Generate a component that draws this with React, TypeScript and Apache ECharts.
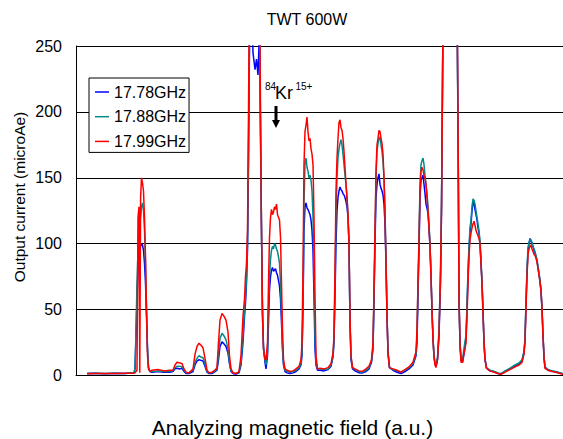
import React, { useEffect, useRef } from "react";
import * as echarts from "echarts";

const FONT = "'Liberation Sans', Arial, sans-serif";

const seriesNames = ["17.78GHz", "17.88GHz", "17.99GHz"];
const seriesColors = ["#0000ff", "#008b8b", "#ff0000"];
const yTicks = { min: 0, max: 250, step: 50 };

// Analyzing magnetic field (a.u.)
const field = [
  11, 19, 29, 39, 49, 58,
  59, 60, 61, 62, 63, 63.8, 64.6, 65.5, 66.5, 67.5, 68.5, 69.5, 70.5, 71.5, 72.5, 74,
  76, 82, 88, 94,
  97, 99, 101, 104, 106, 108, 110, 113,
  117, 119, 121, 123, 125, 127, 129, 131, 133, 136, 139,
  141, 142.5, 144, 146, 148, 150, 152, 153.5, 155, 157, 160, 163,
  165, 167, 168.5, 169.5, 170.5, 171.5, 172.5, 173.5, 175, 177, 179, 180.5, 182, 183.5, 184.5, 185.5, 186.5, 187.5, 189, 190, 191.5,
  192.5, 193.5, 194.5, 195.5, 196.5, 197.5, 198.5, 199.5, 200.5, 201.5, 202.5, 203.5, 204.5, 205.5, 206.5, 207.5, 209,
  211, 214, 217, 220, 223, 225,
  226, 227, 228, 229, 230, 231, 232, 233, 234, 235, 236, 237, 238, 239, 240, 241.5,
  244, 248, 252, 255, 257,
  258, 259, 260, 261, 262, 263, 264, 265, 266, 267, 268, 269, 270, 271, 272, 273, 274, 275, 276.5,
  279, 283, 286, 290, 293, 295.5,
  297, 298, 299, 300, 301, 302, 303, 304, 305, 306, 307, 308, 309, 310, 311, 312, 313.5,
  317, 321, 325, 329, 333, 337, 340,
  341, 342, 343, 344, 345, 346, 347, 348, 349, 350, 351, 352, 353, 354, 355, 356, 357, 358, 359, 360,
  361.5, 363, 364.5, 365.5, 366.5, 367.5, 371, 376, 380, 381.3, 382.3, 383, 384, 385, 386.5, 387.5, 389,
  390, 391, 392, 393, 394, 395, 396, 397, 398, 399, 400, 401, 402, 403, 404, 405, 406, 407, 408, 409, 410.5,
  414, 418, 422, 425, 429, 434, 439, 443, 446, 448,
  449, 450, 451, 452, 453, 454, 455, 456, 457, 458, 459, 460, 461, 462, 463, 464, 465, 466, 467, 468, 469,
  472, 476, 480, 484, 487,
];

// 17.78GHz
const blue = [
  1.5, 1.8, 1.4, 1.7, 1.5, 2,
  5, 30, 60, 80, 92, 96, 98, 100, 99, 95, 85, 70, 45, 20, 6, 3,
  2.5, 3, 2.5, 2.5,
  3, 5, 5.5, 5, 5.5, 3, 1.5, 1.5,
  3, 8, 11, 12, 11.5, 11, 7, 2.5, 1.5, 1.5, 3,
  4, 12, 22, 25.5, 24, 22, 17, 9, 3, 1.5, 1, 2,
  8, 25, 45, 55, 70, 95, 160, 250, 300, 245, 232, 240, 228, 262, 180, 110, 50, 22, 10, 5, 15,
  40, 65, 75, 80, 82, 79, 80, 81, 78, 76, 72, 68, 58, 40, 20, 8, 3,
  2, 1.5, 2, 3, 5, 8,
  15, 50, 110, 128, 131, 127, 126, 124, 122, 118, 110, 95, 60, 20, 8, 4,
  4, 3.5, 4.5, 7, 14,
  25, 60, 100, 125, 135, 140, 143, 141, 140, 138, 137, 135, 132, 128, 120, 100, 40, 12, 5,
  3.5, 2, 1.8, 3, 5, 10,
  20, 55, 100, 135, 145, 150, 153, 145, 142, 140, 137, 130, 115, 85, 45, 18, 6,
  4, 2.5, 1.5, 3, 5, 8, 15,
  25, 60, 95, 135, 148, 150, 152, 145, 138, 130, 127, 123, 112, 98, 75, 50, 28, 15, 9, 7,
  12, 30, 70, 125, 220, 320, 400, 420, 340, 260, 160, 60, 25, 12, 10, 14, 22,
  28, 50, 75, 95, 108, 115, 125, 132, 130, 126, 122, 118, 112, 108, 100, 85, 70, 48, 25, 12, 5.5,
  3.5, 3, 1.5, 1, 3, 5, 7, 8.5, 11, 18,
  27, 55, 78, 95, 100, 104, 102, 100, 98, 95, 93, 90, 87, 82, 77, 72, 64, 50, 30, 14, 6,
  4, 3.5, 2.5, 2, 1,
];

// 17.88GHz
const teal = [
  1.6, 1.7, 1.5, 1.8, 1.6, 2.2,
  5, 35, 70, 95, 115, 118, 120, 128, 131, 125, 110, 85, 50, 20, 6, 3,
  3, 3.5, 3, 3,
  3.5, 6, 7, 7, 6.5, 4, 2, 2,
  4, 10, 13, 15, 14, 13.5, 9, 3, 2, 2, 3.5,
  5, 16, 28, 32, 30, 27, 20, 10, 3.5, 2, 1.5, 2.5,
  10, 30, 50, 60, 75, 100, 170, 260, 320, 320, 320, 320, 300, 280, 190, 110, 45, 20, 12, 8, 18,
  50, 75, 88, 95, 98, 96, 100, 99, 96, 94, 90, 85, 70, 48, 22, 9, 4,
  3, 2.5, 3, 4, 6, 9,
  18, 55, 130, 160, 165, 158, 155, 150, 152, 148, 140, 120, 80, 30, 10, 5,
  5, 4.5, 5, 8, 15,
  28, 70, 120, 150, 165, 172, 176, 179, 175, 168, 160, 152, 145, 135, 122, 100, 40, 14, 6,
  4.5, 3, 2.5, 4, 6, 11,
  22, 60, 105, 150, 170, 176, 180, 181, 175, 170, 162, 150, 125, 90, 48, 18, 6,
  4.5, 3.5, 2.5, 4, 6, 9, 16,
  30, 70, 105, 145, 160, 163, 165, 160, 152, 145, 138, 128, 115, 100, 78, 50, 28, 15, 9, 8,
  14, 35, 80, 130, 220, 320, 400, 420, 340, 255, 150, 55, 25, 14, 12, 18, 26,
  30, 55, 80, 98, 112, 118, 128, 134, 133, 130, 125, 120, 115, 110, 102, 88, 72, 50, 26, 13, 6,
  4, 3, 2, 1.5, 3.5, 5.5, 8, 9.5, 12, 18,
  28, 57, 80, 97, 101, 103, 103, 101, 98, 96, 94, 91, 88, 83, 78, 72, 65, 52, 32, 15, 6.5,
  4.5, 3.5, 3, 2, 1.5,
];

// 17.99GHz
const red = [
  1.4, 1.6, 1.5, 1.6, 1.7, 1.8,
  2, 3, 4, 120, 128, 2, 135, 150, 146, 140, 120, 90, 50, 15, 5, 3,
  4, 4.5, 3.5, 4,
  4, 8, 10, 9.5, 9, 5, 2.5, 2,
  5, 16, 22, 24.5, 23, 21, 13, 4, 2, 2.5, 4,
  6, 25, 42, 47, 45, 42, 33, 15, 5, 2, 1.5, 3,
  15, 45, 58, 75, 85, 110, 200, 300, 360, 370, 380, 370, 340, 300, 200, 110, 45, 20, 12, 12, 25,
  70, 105, 120, 126, 122, 124, 128, 126, 130, 122, 120, 118, 105, 70, 35, 12, 5,
  4, 3, 3.5, 5, 7, 12,
  25, 80, 160, 185, 190, 196, 185, 178, 180, 172, 168, 160, 120, 60, 15, 5,
  5.5, 5, 6, 9, 17,
  30, 80, 140, 165, 180, 192, 194, 188, 186, 180, 170, 158, 145, 135, 122, 100, 45, 15, 6,
  5, 3.5, 3, 5, 7, 12,
  25, 65, 110, 155, 175, 180, 186, 185, 180, 176, 168, 150, 123, 85, 45, 16, 6,
  5, 4, 2.5, 4.5, 6.5, 10, 18,
  35, 70, 100, 140, 155, 158, 156, 152, 150, 145, 135, 125, 112, 98, 75, 48, 27, 14, 8, 6,
  12, 32, 75, 125, 220, 330, 400, 420, 350, 270, 155, 60, 22, 10, 10, 15, 20,
  25, 45, 70, 90, 103, 108, 112, 115, 117, 114, 110, 108, 106, 104, 100, 85, 70, 48, 25, 12, 5.5,
  3.5, 2.5, 1.5, 1, 2.5, 4.5, 6.5, 8, 10, 16,
  25, 50, 75, 92, 96, 98, 99, 96, 94, 92, 91, 89, 86, 81, 76, 71, 64, 51, 30, 13, 5.5,
  4, 3, 2.5, 1.5, 1,
];

const fieldMax = 487;

export default function App() {
  const ref = useRef<HTMLDivElement>(null);
  useEffect(() => {
    if (!ref.current) return;
    const chart = echarts.init(ref.current, undefined, { renderer: "svg" });
    const values = [blue, teal, red];
    const option = {
      animation: false,
      backgroundColor: "#ffffff",
      textStyle: { fontFamily: FONT },
      grid: { left: 76, right: 0, top: 46, bottom: 63.5 },
      legend: {
        orient: "vertical",
        left: 89,
        top: 78,
        padding: [5, 3, 2, 6],
        itemGap: 6.7,
        itemWidth: 14,
        itemHeight: 1.5,
        icon: "rect",
        borderColor: "#000",
        borderWidth: 1,
        borderRadius: 0,
        backgroundColor: "#fff",
        textStyle: { fontSize: 16, color: "#000", fontFamily: FONT, lineHeight: 18 },
        data: seriesNames,
      },
      xAxis: {
        type: "value",
        min: 0,
        max: fieldMax,
        axisLine: { show: true, lineStyle: { color: "#000", width: 1 } },
        axisTick: { show: false },
        axisLabel: { show: false },
        splitLine: { show: false },
      },
      yAxis: {
        type: "value",
        min: yTicks.min,
        max: yTicks.max,
        interval: yTicks.step,
        axisLine: { show: true, lineStyle: { color: "#000", width: 1 } },
        axisTick: { show: false },
        axisLabel: { fontSize: 16, color: "#000", fontFamily: FONT, margin: 14 },
        splitLine: { show: true, lineStyle: { color: "#000", width: 1 } },
      },
      series: seriesNames.map((name, k) => ({
        name,
        type: "line",
        symbol: "none",
        clip: true,
        color: seriesColors[k],
        lineStyle: { color: seriesColors[k], width: 1.5 },
        data: field.map((x, i) => [x, values[k][i]]),
        z: 2 + k,
      })),
      graphic: [
        {
          type: "text",
          x: 307,
          y: 19.5,
          z: 10,
          style: { text: "TWT 600W", fontSize: 16, fontFamily: FONT, fill: "#000", align: "center", verticalAlign: "middle" },
        },
        {
          type: "text",
          x: 292.5,
          y: 427.5,
          z: 10,
          style: { text: "Analyzing magnetic field (a.u.)", fontSize: 21, fontFamily: FONT, fill: "#000", align: "center", verticalAlign: "middle" },
        },
        {
          type: "text",
          x: 19.5,
          y: 197,
          rotation: Math.PI / 2,
          z: 10,
          style: { text: "Output current (microAe)", fontSize: 15.5, fontFamily: FONT, fill: "#000", align: "center", verticalAlign: "middle" },
        },
        {
          type: "text",
          x: 265,
          y: 86,
          z: 10,
          style: { text: "84", fontSize: 10, fontFamily: FONT, fill: "#000", align: "left", verticalAlign: "middle" },
        },
        {
          type: "text",
          x: 275,
          y: 93,
          z: 10,
          style: { text: "Kr", fontSize: 18, fontFamily: FONT, fill: "#000", align: "left", verticalAlign: "middle" },
        },
        {
          type: "text",
          x: 295.5,
          y: 86.5,
          z: 10,
          style: { text: "15+", fontSize: 10, fontFamily: FONT, fill: "#000", align: "left", verticalAlign: "middle" },
        },
        {
          type: "rect",
          z: 10,
          shape: { x: 274.5, y: 106, width: 3, height: 15 },
          style: { fill: "#000" },
        },
        {
          type: "polygon",
          z: 10,
          shape: { points: [[272, 120], [280, 120], [276, 128]] },
          style: { fill: "#000" },
        },
      ],
    };
    chart.setOption(option as any);
    return () => chart.dispose();
  }, []);
  return (
    <div
      ref={ref}
      style={{ position: "absolute", left: 0, top: 0, width: 563, height: 439, background: "#fff" }}
    />
  );
}
